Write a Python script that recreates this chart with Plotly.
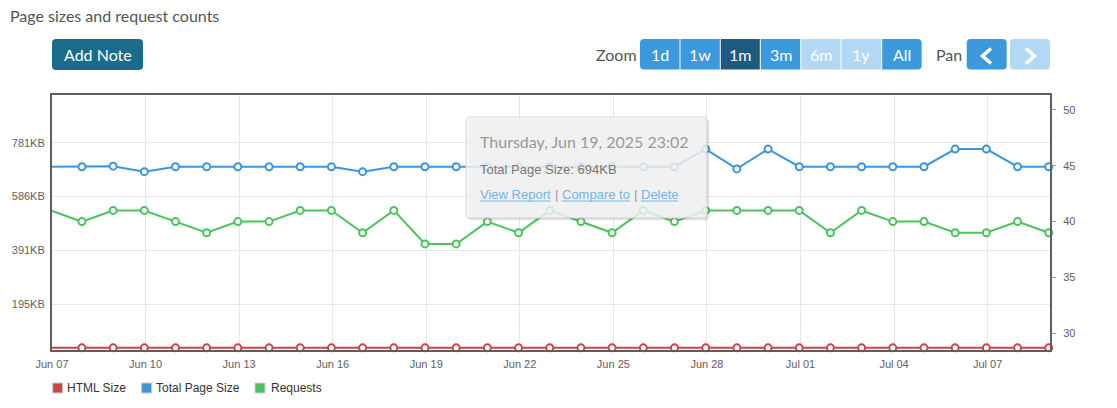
import plotly.graph_objects as go
import pandas as pd

# ---------------- data ----------------
dates = pd.date_range("2025-06-06 23:02", periods=33, freq="D")

html_size_kb = [36, 36, 36, 36, 36, 36, 36, 36, 36, 36, 36, 36, 36, 36, 36, 36, 36,
                36, 36, 36, 36, 36, 36, 36, 36, 36, 36, 36, 36, 36, 36, 36, 36]
total_size_kb = [694, 694, 696, 676, 694, 694, 694, 694, 694, 694, 676, 694, 694, 694, 694, 694, 694,
                 694, 694, 694, 694, 758, 686, 758, 694, 694, 694, 694, 694, 758, 758, 694, 694]
requests = [41, 40, 41, 41, 40, 39, 40, 40, 41, 41, 39, 41, 38, 38, 40, 39, 41,
            40, 39, 41, 40, 41, 41, 41, 41, 39, 41, 40, 40, 39, 39, 40, 39]

x_tickvals = ["2025-06-07", "2025-06-10", "2025-06-13", "2025-06-16", "2025-06-19", "2025-06-22",
              "2025-06-25", "2025-06-28", "2025-07-01", "2025-07-04", "2025-07-07"]
x_ticktext = ["Jun 07", "Jun 10", "Jun 13", "Jun 16", "Jun 19", "Jun 22",
              "Jun 25", "Jun 28", "Jul 01", "Jul 04", "Jul 07"]
size_tickvals = [195.3125, 390.625, 585.9375, 781.25]
size_ticktext = ["195KB", "391KB", "586KB", "781KB"]
req_tickvals = [30, 35, 40, 45, 50]

x_range = ["2025-06-07 00:00", "2025-07-09 00:00"]

RED = "#cc4545"
BLUE = "#3d95db"
GREEN = "#4cc35e"

# ---------------- geometry helpers (pixel -> paper) ----------------
W_FIG, H_FIG = 1117, 408
L, T, R, B = 52, 95, 1050, 350
PW, PH = R - L, B - T


def px(x):
    return (x - L) / PW


def py(y):
    return (B - y) / PH


def P(x, y):
    return f"{px(x):.5f},{py(y):.5f}"


def rrect(x0, y0, x1, y1, r=3, tl=True, tr=True, br=True, bl=True):
    s = f"M {P(x0 + (r if tl else 0), y0)}"
    s += f" L {P(x1 - (r if tr else 0), y0)}"
    if tr:
        s += f" Q {P(x1, y0)} {P(x1, y0 + r)}"
    s += f" L {P(x1, y1 - (r if br else 0))}"
    if br:
        s += f" Q {P(x1, y1)} {P(x1 - r, y1)}"
    s += f" L {P(x0 + (r if bl else 0), y1)}"
    if bl:
        s += f" Q {P(x0, y1)} {P(x0, y1 - r)}"
    s += f" L {P(x0, y0 + (r if tl else 0))}"
    if tl:
        s += f" Q {P(x0, y0)} {P(x0 + r, y0)}"
    return s + " Z"


shapes = []
annotations = []


def ann(text, x, y, size, color, family="Liberation Sans, Arial, sans-serif", xanchor="left"):
    # compensate for annotation padding when left/right anchored
    dx = {"left": -2, "right": 2, "center": 0}[xanchor]
    annotations.append(dict(text=text, x=px(x + dx), y=py(y), xref="paper", yref="paper",
                            xanchor=xanchor, yanchor="middle", showarrow=False,
                            font=dict(size=size, color=color, family=family)))


# ---------------- figure ----------------
fig = go.Figure()

start = pd.Timestamp(x_range[0])
vis = [i for i, d in enumerate(dates) if d >= start]

series = [
    ("HTML Size", html_size_kb, RED, "y"),
    ("Total Page Size", total_size_kb, BLUE, "y"),
    ("Requests", requests, GREEN, "y2"),
]
for name, vals, col, ax in series:
    fig.add_trace(go.Scatter(x=dates, y=vals, mode="lines", name=name, yaxis=ax,
                             line=dict(color=col, width=2), showlegend=False, hoverinfo="skip"))
    fig.add_trace(go.Scatter(x=[dates[i] for i in vis], y=[vals[i] for i in vis], mode="markers",
                             yaxis=ax, cliponaxis=False, showlegend=False, hoverinfo="skip",
                             marker=dict(size=7, color="white", line=dict(color=col, width=2))))

# ---------------- header controls ----------------
FONT_UI = "Lato, Open Sans, sans-serif"
ann("Page sizes and request counts", 10, 15, 16, "#555555", FONT_UI)

shapes.append(dict(type="path", xref="paper", yref="paper", path=rrect(52, 39, 143, 70, 4),
                   fillcolor="#1b6b8b", line=dict(width=0), layer="above"))
ann("Add Note", 97.5, 54.5, 16, "white", FONT_UI, "center")

ann("Zoom", 637, 54.5, 16, "#555555", FONT_UI, "right")
zoom_labels = ["1d", "1w", "1m", "3m", "6m", "1y", "All"]
zoom_edges = [640, 680, 720.3, 760.3, 800.7, 841, 881.7, 921.7]
zoom_state = ["n", "n", "sel", "n", "dis", "dis", "n"]
state_col = {"n": "#3d99de", "sel": "#1d5a80", "dis": "#b3d8f3"}
for i, lab in enumerate(zoom_labels):
    x0 = zoom_edges[i] + (0.5 if i > 0 else 0)
    x1 = zoom_edges[i + 1] - (0.5 if i < len(zoom_labels) - 1 else 0)
    shapes.append(dict(type="path", xref="paper", yref="paper",
                       path=rrect(x0, 39, x1, 69.5, 4, tl=(i == 0), bl=(i == 0),
                                  tr=(i == len(zoom_labels) - 1), br=(i == len(zoom_labels) - 1)),
                       fillcolor=state_col[zoom_state[i]], line=dict(width=0), layer="above"))
    ann(lab, (zoom_edges[i] + zoom_edges[i + 1]) / 2, 54.5, 16, "white", FONT_UI, "center")

ann("Pan", 949, 54.5, 16, "#555555", FONT_UI, "center")
shapes.append(dict(type="path", xref="paper", yref="paper", path=rrect(966.7, 39, 1006.7, 69.5, 4),
                   fillcolor="#3d99de", line=dict(width=0), layer="above"))
shapes.append(dict(type="path", xref="paper", yref="paper", path=rrect(1010, 39, 1050, 69.5, 4),
                   fillcolor="#b3d8f3", line=dict(width=0), layer="above"))
shapes.append(dict(type="path", xref="paper", yref="paper",
                   path=f"M {P(991, 48.5)} L {P(982.5, 56)} L {P(991, 63.5)}",
                   line=dict(color="white", width=3.5), layer="above"))
shapes.append(dict(type="path", xref="paper", yref="paper",
                   path=f"M {P(1026, 48.5)} L {P(1034.5, 56)} L {P(1026, 63.5)}",
                   line=dict(color="white", width=3.5), layer="above"))

# ---------------- tooltip ----------------
for off, a in [(3, 0.04), (2, 0.06), (1, 0.08)]:
    shapes.append(dict(type="path", xref="paper", yref="paper",
                       path=rrect(466 + off, 117 + off, 707 + off, 218 + off, 4),
                       fillcolor=f"rgba(0,0,0,{a})", line=dict(width=0), layer="above"))
shapes.append(dict(type="path", xref="paper", yref="paper", path=rrect(466, 117, 707, 218, 4),
                   fillcolor="rgba(248,248,248,0.82)", line=dict(color="#d6d6d6", width=1),
                   layer="above"))
ann("Thursday, Jun 19, 2025 23:02", 480, 141.5, 16, "#999999", FONT_UI)
ann("Total Page Size: 694KB", 480, 169, 13, "#777777")
LINK = "#74b2e6"
ann("View Report", 480, 194.5, 13, LINK)
ann("|", 556, 194.5, 13, "#999999", xanchor="center")
ann("Compare to", 561.7, 194.5, 13, LINK)
ann("|", 635.5, 194.5, 13, "#999999", xanchor="center")
ann("Delete", 641, 194.5, 13, LINK)
for x0, x1 in [(480, 550.7), (561.7, 630), (641, 678)]:
    shapes.append(dict(type="line", xref="paper", yref="paper", x0=px(x0), x1=px(x1),
                       y0=py(201), y1=py(201), line=dict(color=LINK, width=1), layer="above"))

# ---------------- legend (custom) ----------------
legend_items = [("HTML Size", RED, 52.7, 67.4), ("Total Page Size", BLUE, 141.6, 156),
                ("Requests", GREEN, 255, 270.6)]
for name, col, sx, tx in legend_items:
    shapes.append(dict(type="rect", xref="paper", yref="paper", x0=px(sx), x1=px(sx + 10),
                       y0=py(383), y1=py(393), fillcolor=col, line=dict(color="#cccccc", width=1)))
    ann(name, tx, 387.5, 12, "#333333")

AXFONT = dict(family="Liberation Sans, Arial, sans-serif", size=11, color="#606060")

fig.update_layout(
    width=W_FIG, height=H_FIG,
    margin=dict(l=L, r=W_FIG - R, t=T, b=H_FIG - B, pad=0),
    paper_bgcolor="white", plot_bgcolor="white",
    hovermode=False, showlegend=False,
    shapes=shapes, annotations=annotations,
    xaxis=dict(type="date", range=x_range, tickvals=x_tickvals, ticktext=x_ticktext,
               showgrid=True, gridcolor="#e6e6e6", gridwidth=1, zeroline=False,
               showline=True, linecolor="#5e5e5e", linewidth=2, mirror=True,
               ticks="", tickfont=AXFONT, ticklabelstandoff=3),
    yaxis=dict(range=[28.2, 954.5], tickvals=size_tickvals, ticktext=size_ticktext,
               showgrid=True, gridcolor="#e6e6e6", gridwidth=1, zeroline=False,
               showline=True, linecolor="#5e5e5e", linewidth=2, mirror=True,
               ticks="", tickfont=AXFONT, ticklabelstandoff=3),
    yaxis2=dict(range=[28.5, 51.34], tickvals=req_tickvals, overlaying="y", side="right",
                showgrid=False, zeroline=False, showline=False,
                ticks="outside", ticklen=5, tickcolor="#999999", tickwidth=1,
                tickfont=AXFONT, ticklabelstandoff=5),
)

fig.write_html("out.html")
